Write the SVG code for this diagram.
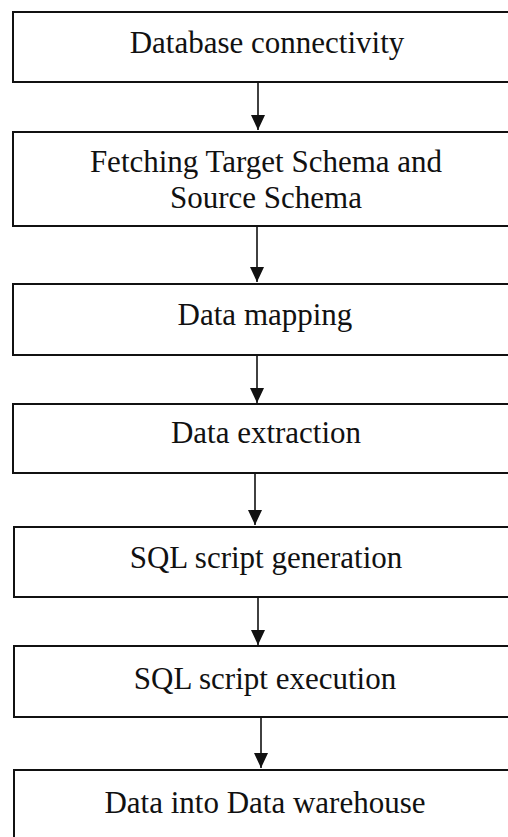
<svg xmlns="http://www.w3.org/2000/svg" width="508" height="837" viewBox="0 0 508 837">
<style>
.box{fill:#fff;stroke:#111;stroke-width:2}
.lbl{font-family:"Liberation Serif","Times New Roman",serif;font-size:31px;fill:#111;text-anchor:middle}
.conn{stroke:#111;stroke-width:1.6;fill:none;marker-end:url(#ah)}
</style>
<defs>
<marker id="ah" markerUnits="userSpaceOnUse" markerWidth="15" markerHeight="14" refX="15" refY="7" orient="auto" viewBox="0 0 15 14">
<path d="M0,0 L15,7 L0,14 Z" fill="#111"/>
</marker>
</defs>
<rect width="508" height="837" fill="#fff"/>
<g id="n1"><rect class="box" x="13" y="12" width="510" height="70"/><text class="lbl" x="267" y="53">Database connectivity</text></g>
<g id="n2"><rect class="box" x="13" y="132" width="510" height="94"/><text class="lbl" x="266" y="172">Fetching Target Schema and</text><text class="lbl" x="266" y="208">Source Schema</text></g>
<g id="n3"><rect class="box" x="13" y="284" width="510" height="71"/><text class="lbl" x="265" y="325">Data mapping</text></g>
<g id="n4"><rect class="box" x="13" y="404" width="510" height="69"/><text class="lbl" x="266" y="443">Data extraction</text></g>
<g id="n5"><rect class="box" x="14" y="527" width="510" height="70"/><text class="lbl" x="266" y="568">SQL script generation</text></g>
<g id="n6"><rect class="box" x="14" y="646" width="510" height="71"/><text class="lbl" x="265" y="689">SQL script execution</text></g>
<g id="n7"><rect class="box" x="14" y="770" width="510" height="90"/><text class="lbl" x="265" y="813">Data into Data warehouse</text></g>
<g id="connectors">
<line class="conn" x1="258" y1="82" x2="258" y2="130"/>
<line class="conn" x1="257" y1="226" x2="257" y2="282"/>
<line class="conn" x1="257" y1="355" x2="257" y2="403"/>
<line class="conn" x1="255" y1="473" x2="255" y2="525"/>
<line class="conn" x1="258" y1="597" x2="258" y2="645"/>
<line class="conn" x1="261" y1="717" x2="261" y2="768"/>
</g>
</svg>
